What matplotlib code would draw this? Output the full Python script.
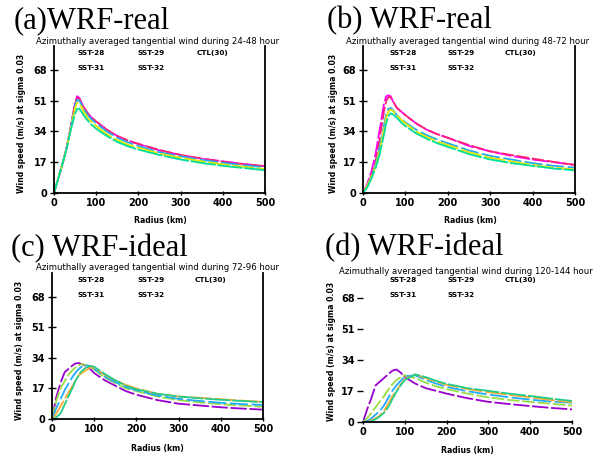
import numpy as np
import matplotlib
matplotlib.use("Agg")
import matplotlib.pyplot as plt

# radius grid (km)
radius = [0, 10, 20, 30, 40, 50, 55, 60, 65, 70, 80, 90, 100,
          125, 150, 175, 200, 250, 300, 350, 400, 450, 500]

# (a) WRF-real 24-48 h
a_s1 = [0, 8, 16, 25, 37, 50, 53.5, 52.5, 50, 47.5, 44, 41.5, 39.5, 35, 31.5, 29, 27, 23.5, 21, 19, 17.5, 16, 14.8]
a_s2 = [0, 8, 16, 25, 37, 49.5, 52.5, 52, 50, 47.5, 44, 41.5, 39.5, 35, 31.5, 29, 27.2, 23.8, 21, 19, 17.3, 16, 14.8]
a_s3 = [0, 8, 16, 25, 36.5, 48.5, 51.5, 51, 49, 46.5, 43, 40.5, 38.5, 34, 30.5, 28, 26, 22.5, 20.3, 18.3, 16.7, 15.3, 14.2]
a_s4 = [0, 8, 16, 25, 36, 47, 50, 49.5, 47.5, 45, 41.5, 39, 37, 32.5, 29.2, 26.8, 25, 21.8, 19.5, 17.5, 15.8, 14.5, 13.2]
a_s5 = [0, 8, 16, 24.5, 35, 44, 46.5, 46.5, 45, 43, 40, 37.5, 35.5, 31.5, 28.2, 25.8, 24, 21, 18.5, 16.6, 15, 13.8, 12.6]

# (b) WRF-real 48-72 h
b_s1 = [0, 5, 12, 22, 36, 50, 53.5, 54, 53.5, 51, 47, 45, 43, 38.5, 35, 32.5, 30.5, 26, 23, 20.5, 18.5, 17, 15.5]
b_s2 = [0, 4, 10, 18, 31, 46, 51, 53, 53, 51, 47, 45, 43, 38.5, 35, 32.5, 30.5, 26.5, 23, 21, 19, 17.2, 15.5]
b_s3 = [0, 4, 9, 16, 26, 38, 44, 46.5, 47, 46, 43, 41, 39, 35, 32, 29.5, 27.5, 23.5, 20.5, 18.5, 16.5, 15, 14]
b_s4 = [0, 4, 9, 15, 24, 36, 42, 45, 46, 45.5, 43, 40.5, 38.5, 34, 31, 28.5, 26.5, 22.5, 19.5, 17.5, 15.5, 14, 13]
b_s5 = [0, 3, 8, 14, 22, 33, 39, 42.5, 44, 43.5, 41.5, 39, 37, 33, 30, 27.5, 25.5, 21.5, 18.5, 16.5, 15, 13.5, 12.5]

# (c) WRF-ideal 72-96 h
c_s1 = [0, 12, 20, 26, 28, 30, 30.8, 31, 31, 30.5, 29.5, 28, 25.5, 21.5, 18.5, 15.5, 13.5, 10.5, 8.5, 7.5, 6.5, 5.8, 5.2]
c_s2 = [0, 10, 17, 21, 25, 27.5, 28.5, 29.5, 30, 30.5, 30, 29, 27.5, 23, 20, 17, 15.5, 12.5, 10.5, 9.2, 8.2, 7.5, 6.8]
c_s3 = [0, 6, 11, 16, 20, 24, 25.5, 27, 28, 29, 29.8, 29.5, 28, 23.5, 20.5, 17.8, 16, 13, 11.2, 10, 9, 8.3, 7.8]
c_s4 = [0, 3, 7, 11, 15, 19, 21, 23, 24.5, 25.5, 27, 28.5, 28.5, 24.5, 21.5, 19, 17, 14, 12.5, 11.8, 11, 10.2, 9.5]
c_s5 = [0, 1, 3, 8, 13, 18, 21, 23, 25, 26.5, 28.5, 29.5, 29, 25, 21.5, 18.5, 16.5, 14, 12.5, 11.5, 10.7, 10, 9.4]

# (d) WRF-ideal 120-144 h
d_s1 = [0, 7, 13, 20, 22, 24, 25, 26, 27, 28, 28.7, 27, 24.5, 21, 18.5, 17, 15.5, 13, 11, 9.8, 8.7, 7.7, 6.9]
d_s2 = [0, 2, 5, 8, 11, 14, 16, 17.5, 19, 20.5, 23, 24.5, 25.5, 24, 21.5, 19.5, 18, 15.5, 13.5, 12, 11, 10, 9]
d_s3 = [0, 0.5, 2, 4, 6, 9, 11, 13, 15, 17, 20, 22.5, 25, 25.5, 23, 21, 19.2, 16.8, 15, 13.5, 12.2, 11.2, 10.5]
d_s4 = [0, 0, 1, 2, 3.5, 6, 8, 10, 12, 14, 17, 20.5, 23.5, 26, 24, 22, 20.3, 18, 16.3, 14.8, 13.5, 12, 10.8]
d_s5 = [0, 0, 0.5, 1.5, 3, 5, 6.5, 8, 10, 12.5, 16.5, 20, 23, 26, 24.5, 22.5, 20.8, 18.5, 17, 15.5, 14.2, 12.8, 11.5]

labels_row1 = ["SST-28", "SST-29", "CTL(30)"]
labels_row2 = ["SST-31", "SST-32"]
yticks = [0, 17, 34, 51, 68]
xticks = [0, 100, 200, 300, 400, 500]

real_colors = ["#ff00ff", "#ff2277", "#22aaee", "#e6e600", "#00dd99"]
ideal_colors = ["#9900cc", "#99dd44", "#22aaff", "#ffaa33", "#22cc88"]
dashes = [(9, 1.5), (7, 1.5), (10, 2), (12, 1.5), (14, 1)]

W, H = 600, 457
fig = plt.figure(figsize=(6, 4.57), dpi=100)


def fx(x):
    return x / W


def fy(y):
    return 1 - y / H


panels = [
    dict(series=[a_s1, a_s2, a_s3, a_s4, a_s5], colors=real_colors,
         box=(54, 265, 193, 1.81), title="(a)WRF-real", tpos=(14, 21),
         sub="Azimuthally averaged tangential wind during 24-48 hour", spos=(158, 42),
         leg=(78, 138, 197, 53, 68), ylab=22, xlab=(160, 221), right=True, left=True),
    dict(series=[b_s1, b_s2, b_s3, b_s4, b_s5], colors=real_colors,
         box=(363, 575, 193, 1.81), title="(b) WRF-real", tpos=(327, 21),
         sub="Azimuthally averaged tangential wind during 48-72 hour", spos=(468, 42),
         leg=(390, 447, 505, 53, 68), ylab=333, xlab=(470, 221), right=True, left=True),
    dict(series=[c_s1, c_s2, c_s3, c_s4, c_s5], colors=ideal_colors,
         box=(52, 263, 419, 1.80), title="(c) WRF-ideal", tpos=(11, 249),
         sub="Azimuthally averaged tangential wind during 72-96 hour", spos=(157, 268),
         leg=(78, 137, 195, 280, 295), ylab=20, xlab=(157, 448), right=True, left=True),
    dict(series=[d_s1, d_s2, d_s3, d_s4, d_s5], colors=ideal_colors,
         box=(363, 572, 422, 1.83), title="(d) WRF-ideal", tpos=(325, 248),
         sub="Azimuthally averaged tangential wind during 120-144 hour", spos=(466, 271),
         leg=(390, 447, 505, 280, 295), ylab=332, xlab=(467, 450), right=False, left=False),
]

ymax = 81
for p in panels:
    x0, x1, yb, sc = p["box"]
    h = ymax * sc
    ax = fig.add_axes([fx(x0), fy(yb), (x1 - x0) / W, h / H])
    for vals, col, ds in zip(p["series"], p["colors"], dashes):
        ax.plot(radius, vals, color=col, lw=1.3, dashes=ds)
    ax.set_xlim(0, 500)
    ax.set_ylim(0, ymax)
    ax.set_xticks(xticks)
    ax.set_yticks(yticks)
    ax.spines["top"].set_visible(False)
    ax.spines["right"].set_visible(p["right"])
    ax.spines["left"].set_visible(p["left"])
    for s in ax.spines.values():
        s.set_linewidth(1.3)
    ax.tick_params(axis="x", direction="inout", length=3, width=1, pad=2, labelsize=7)
    if p["left"]:
        ax.tick_params(axis="y", direction="inout", length=6, width=1, pad=2, labelsize=7)
    else:
        ax.tick_params(axis="y", direction="out", length=4, width=1, pad=2, labelsize=7)
    for t in ax.get_xticklabels() + ax.get_yticklabels():
        t.set_fontweight("bold")

    fig.text(fx(p["tpos"][0]), fy(p["tpos"][1]), p["title"], family="Liberation Serif",
             fontsize=22, ha="left", va="center")
    fig.text(fx(p["spos"][0]), fy(p["spos"][1]), p["sub"], fontsize=6.1,
             ha="center", va="center")
    lx1, lx2, lx3, ly1, ly2 = p["leg"]
    for lx, lab in zip([lx1, lx2, lx3], labels_row1):
        fig.text(fx(lx), fy(ly1), lab, fontsize=5.2, fontweight="bold", ha="left", va="center")
    for lx, lab in zip([lx1, lx2], labels_row2):
        fig.text(fx(lx), fy(ly2), lab, fontsize=5.2, fontweight="bold", ha="left", va="center")
    fig.text(fx(p["ylab"]), fy(yb - 66 * sc + 50), "Wind speed (m/s) at sigma 0.03",
             fontsize=5.6, fontweight="bold", rotation=90, ha="center", va="center")
    fig.text(fx(p["xlab"][0]), fy(p["xlab"][1]), "Radius (km)", fontsize=5.6,
             fontweight="bold", ha="center", va="center")

fig.savefig("out.png", dpi=100)
